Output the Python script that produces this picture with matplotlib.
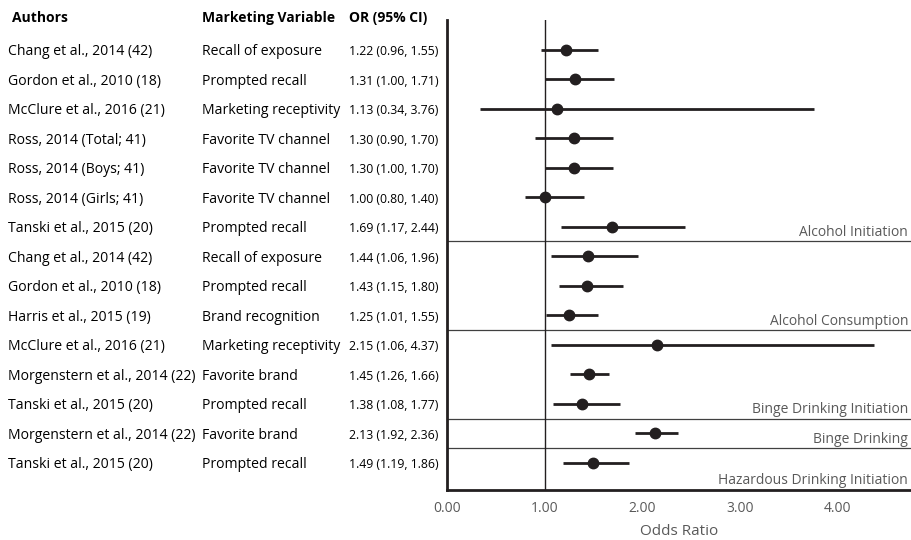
import matplotlib
matplotlib.use("Agg")
import matplotlib.pyplot as plt
from matplotlib.transforms import blended_transform_factory

authors = ["Chang et al., 2014 (42)", "Gordon et al., 2010 (18)", "McClure et al., 2016 (21)",
           "Ross, 2014 (Total; 41)", "Ross, 2014 (Boys; 41)", "Ross, 2014 (Girls; 41)",
           "Tanski et al., 2015 (20)", "Chang et al., 2014 (42)", "Gordon et al., 2010 (18)",
           "Harris et al., 2015 (19)", "McClure et al., 2016 (21)", "Morgenstern et al., 2014 (22)",
           "Tanski et al., 2015 (20)", "Morgenstern et al., 2014 (22)", "Tanski et al., 2015 (20)"]
variables = ["Recall of exposure", "Prompted recall", "Marketing receptivity",
             "Favorite TV channel", "Favorite TV channel", "Favorite TV channel",
             "Prompted recall", "Recall of exposure", "Prompted recall",
             "Brand recognition", "Marketing receptivity", "Favorite brand",
             "Prompted recall", "Favorite brand", "Prompted recall"]
odds = [1.22, 1.31, 1.13, 1.30, 1.30, 1.00, 1.69, 1.44, 1.43, 1.25, 2.15, 1.45, 1.38, 2.13, 1.49]
lower = [0.96, 1.00, 0.34, 0.90, 1.00, 0.80, 1.17, 1.06, 1.15, 1.01, 1.06, 1.26, 1.08, 1.92, 1.19]
upper = [1.55, 1.71, 3.76, 1.70, 1.70, 1.40, 2.44, 1.96, 1.80, 1.55, 4.37, 1.66, 1.77, 2.36, 1.86]
groups = ["Alcohol Initiation", "Alcohol Consumption", "Binge Drinking Initiation",
          "Binge Drinking", "Hazardous Drinking Initiation"]
group_sizes = [7, 3, 3, 1, 1]
xticks = [0, 1, 2, 3, 4]
headers = ["Authors", "Marketing Variable", "OR (95% CI)"]

FONT = "Open Sans"
GRAY = "#595959"
DARK = "#231f20"

fig = plt.figure(figsize=(9.12, 5.4), dpi=100)
ax = fig.add_axes([447/912, 1 - 490/540, 1 - 447/912, (490 - 20)/540])

ys = list(range(1, len(odds) + 1))
for y, o, lo, hi in zip(ys, odds, lower, upper):
    ax.plot([lo, hi], [y, y], color=DARK, lw=2.0, solid_capstyle="butt", zorder=3)
    ax.plot([o], [y], "o", color=DARK, ms=7.5, zorder=4)

ax.axvline(1.0, color=DARK, lw=1.0, zorder=2)

xmax = 4.76
ax.set_xlim(0, xmax)
ax.set_ylim(15.92, 0)

cum = 0
for g, n in zip(groups, group_sizes):
    cum += n
    sep = cum + 0.5
    if cum < len(odds):
        ax.axhline(sep, color="#404040", lw=0.9, zorder=1)
        ly = sep - 0.05
    else:
        ly = 15.92 - 0.08
    ax.text(xmax - 0.04, ly, g, ha="right", va="bottom", color=GRAY,
            fontsize=10, family=FONT)

for s in ["top", "right"]:
    ax.spines[s].set_visible(False)
for s in ["left", "bottom"]:
    ax.spines[s].set_linewidth(2.0)
    ax.spines[s].set_color(DARK)
ax.set_yticks([])
ax.set_xticks(xticks)
ax.set_xticklabels([f"{t:.2f}" for t in xticks], color=GRAY, fontsize=10, family=FONT)
ax.tick_params(axis="x", length=0, pad=8)
ax.set_xlabel("Odds Ratio", color=GRAY, fontsize=11, family=FONT, labelpad=6)

bt = blended_transform_factory(fig.transFigure, ax.transData)
col_x = [8/912, 202/912, 349/912]
dy = 0.07
for y, a, v, o, lo, hi in zip(ys, authors, variables, odds, lower, upper):
    ax.text(col_x[0], y + dy, a, transform=bt, ha="left", va="center", fontsize=10.1, family=FONT, color="black")
    ax.text(col_x[1], y + dy, v, transform=bt, ha="left", va="center", fontsize=10.1, family=FONT, color="black")
    ax.text(col_x[2], y + dy, f"{o:.2f} ({lo:.2f}, {hi:.2f})", transform=bt, ha="left", va="center",
            fontsize=8.8, family=FONT, color="black")

hdr_x = [12/912, 202/912, 349/912]
for hx, h in zip(hdr_x, headers):
    fig.text(hx, 1 - 18/540, h, ha="left", va="center", fontsize=10, family=FONT,
             fontweight="bold", color="black")

fig.savefig("out.png", dpi=100)
